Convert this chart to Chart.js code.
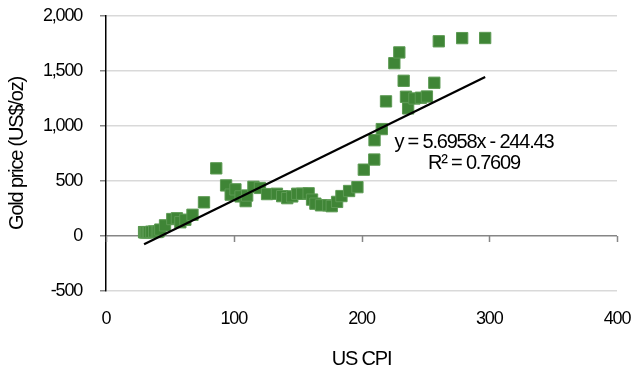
<!DOCTYPE html>
<html lang="en">
<head>
<meta charset="UTF-8">
<title>Gold price vs US CPI</title>
<script src="https://cdn.jsdelivr.net/npm/chart.js"></script>
<style>
    body { margin: 0; background: #fff; }
    #wrap { width: 631px; height: 371px; position: relative; }
</style>
</head>
<body>
<div id="wrap"><canvas id="goldChart"></canvas></div>
<script>
    // US CPI (Dec, 1982-84 = 100) against yearly average gold price, 1960-2022
    const cpi = [
        29.8, 30.0, 30.4, 30.9, 31.2, 31.8, 32.9, 33.9, 35.5, 37.7,
        39.8, 41.1, 42.5, 46.2, 51.9, 55.5, 58.2, 62.1, 67.7, 76.7,
        86.3, 94.0, 97.6, 101.3, 105.3, 109.3, 110.5, 115.4, 120.5, 126.1,
        133.8, 137.9, 141.9, 145.8, 149.7, 153.5, 158.6, 161.3, 163.9, 168.3,
        174.0, 176.7, 180.9, 184.3, 190.3, 196.8, 201.8, 210.0, 210.2, 215.9,
        219.2, 225.7, 229.6, 233.0, 234.8, 236.5, 241.4, 246.5, 251.2, 257.0,
        260.5, 278.8, 296.8
    ];
    const goldPrice = [
        35, 35, 35, 35, 35, 35, 35, 35, 39, 41,
        36, 41, 58, 97, 154, 161, 125, 148, 193, 306,
        615, 460, 376, 424, 360, 317, 368, 447, 437, 381,
        384, 362, 344, 360, 384, 384, 388, 331, 294, 279,
        279, 271, 310, 363, 409, 444, 603, 695, 871, 972,
        1224, 1571, 1669, 1411, 1266, 1160, 1250, 1257, 1268, 1393,
        1770, 1799, 1800
    ];
    const trendSlope = 5.6958;
    const trendIntercept = -244.43;
    const trendLabel = ['y = 5.6958x - 244.43', 'R² = 0.7609'];
    const xTicks = [0, 100, 200, 300, 400];
    const yTicks = [-500, 0, 500, 1000, 1500, 2000];
    const xTitle = 'US CPI';
    const yTitle = 'Gold price (US$/oz)';

    // no narrow font installed, so squeeze the regular one a little
    const fontFamily = "'Liberation Sans', Arial, sans-serif";
    const squeeze = '-1.2px';
    Chart.defaults.font.family = fontFamily;
    Chart.defaults.color = '#000';

    const points = cpi.map((c, i) => ({ x: c, y: goldPrice[i] }));
    const xMin = Math.min(...cpi), xMax = Math.max(...cpi);
    const trendPoints = [xMin, xMax].map(x => ({ x: x, y: trendSlope * x + trendIntercept }));

    const extras = {
        id: 'extras',
        beforeLayout(chart) { chart.ctx.letterSpacing = squeeze; },
        beforeDraw(chart) { chart.ctx.letterSpacing = squeeze; },
        // little tick marks hanging off the zero line
        beforeDatasetsDraw(chart) {
            const { ctx, scales: { x, y } } = chart;
            const y0 = y.getPixelForValue(0);
            ctx.save();
            ctx.strokeStyle = '#868686';
            ctx.lineWidth = 1.5;
            xTicks.forEach(v => {
                const px = Math.round(x.getPixelForValue(v)) + 0.5;
                ctx.beginPath();
                ctx.moveTo(px, y0);
                ctx.lineTo(px, y0 + 6);
                ctx.stroke();
            });
            ctx.restore();
        },
        // trendline equation
        afterDatasetsDraw(chart) {
            const { ctx, scales: { x, y } } = chart;
            ctx.save();
            ctx.font = '20px ' + fontFamily;
            ctx.letterSpacing = squeeze;
            ctx.fillStyle = '#000';
            ctx.textAlign = 'center';
            ctx.textBaseline = 'middle';
            const cx = x.getPixelForValue(288);
            const cy = y.getPixelForValue(850);
            trendLabel.forEach((t, i) => ctx.fillText(t, cx, cy + i * 21));
            ctx.restore();
        }
    };

    new Chart(document.getElementById('goldChart'), {
        type: 'scatter',
        data: {
            datasets: [{
                label: 'Trend',
                data: trendPoints,
                showLine: true,
                borderColor: '#000',
                borderWidth: 2.25,
                pointRadius: 0,
                order: 0
            }, {
                label: 'Gold',
                data: points,
                pointStyle: 'rect',
                pointRadius: 8,
                pointHoverRadius: 8,
                backgroundColor: '#3f8536',
                borderColor: '#5c9a53',
                borderWidth: 1,
                order: 1
            }]
        },
        options: {
            responsive: true,
            maintainAspectRatio: false,
            animation: false,
            layout: { padding: { top: 16, right: 14, left: 0, bottom: 0 } },
            plugins: { legend: { display: false }, tooltip: { enabled: false } },
            scales: {
                x: {
                    type: 'linear',
                    min: xTicks[0],
                    max: xTicks[xTicks.length - 1],
                    afterBuildTicks: s => { s.ticks = xTicks.map(v => ({ value: v })); },
                    grid: { display: false, drawTicks: false },
                    border: { display: false },
                    ticks: { font: { size: 18 }, padding: 17, maxRotation: 0 },
                    title: { display: true, text: xTitle, font: { size: 20 }, padding: { top: 0, bottom: 0 } },
                    afterFit: s => { s.height = 80; s.paddingLeft = 0; s.paddingRight = 0; }
                },
                y: {
                    min: yTicks[0],
                    max: yTicks[yTicks.length - 1],
                    afterBuildTicks: s => { s.ticks = yTicks.map(v => ({ value: v })); },
                    grid: {
                        color: c => (c.tick && c.tick.value === 0) ? '#868686' : '#d9d9d9',
                        lineWidth: 1.5,
                        tickColor: '#868686',
                        tickLength: 6
                    },
                    border: { color: '#000', width: 1.5 },
                    ticks: {
                        font: { size: 18 },
                        padding: 18,
                        callback: v => v.toLocaleString('en-US')
                    },
                    title: { display: true, text: yTitle, font: { size: 20 }, padding: { top: 5, bottom: 0 } },
                    afterFit: s => { s.width = 106; s.paddingTop = 0; s.paddingBottom = 0; }
                }
            }
        },
        plugins: [extras]
    });
</script>
</body>
</html>
